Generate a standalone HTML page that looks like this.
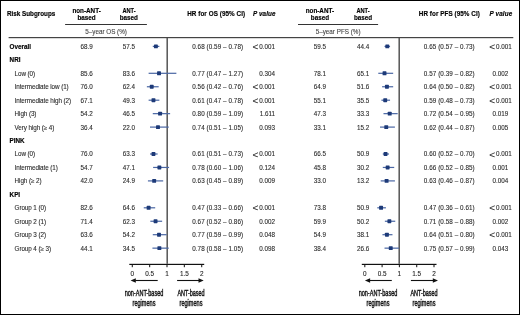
<!DOCTYPE html>
<html><head><meta charset="utf-8"><style>
html,body{margin:0;padding:0;background:#fff}
#c{position:relative;width:520px;height:315px;overflow:hidden;background:#fff;font-family:"Liberation Sans",sans-serif;color:#2a2a2a}
#c .t{position:absolute;white-space:nowrap}
#c .lt{display:inline-block;font-size:9.4px;width:6.9px;line-height:0;vertical-align:-1.2px;transform:translateX(0.6px) scaleX(1.06);transform-origin:0 0}
#tx{position:absolute;left:0;top:0;width:520px;height:315px;will-change:transform;-webkit-text-stroke:0.1px currentColor;filter:blur(0.25px)}
#c svg{position:absolute;left:0;top:0}
#b{position:absolute;left:0;top:0;width:518px;height:313px;border:1px solid #000}
</style></head><body><div id="c">
<svg width="520" height="315" viewBox="0 0 520 315"><rect x="65.10" y="24.00" width="81.80" height="1.00" fill="#333"/><rect x="298.00" y="24.00" width="80.10" height="1.00" fill="#333"/><rect x="8.60" y="37.00" width="504.70" height="1.20" fill="#444"/><rect x="166.45" y="38.00" width="1.50" height="225.80" fill="#555"/><rect x="129.30" y="263.80" width="74.90" height="1.20" fill="#111"/><rect x="131.75" y="264.80" width="1.10" height="2.40" fill="#222"/><rect x="149.10" y="264.80" width="1.10" height="2.40" fill="#222"/><rect x="166.45" y="264.80" width="1.10" height="2.40" fill="#222"/><rect x="183.80" y="264.80" width="1.10" height="2.40" fill="#222"/><rect x="201.15" y="264.80" width="1.10" height="2.40" fill="#222"/><rect x="398.45" y="38.00" width="1.50" height="225.80" fill="#555"/><rect x="361.80" y="263.80" width="74.70" height="1.20" fill="#111"/><rect x="364.25" y="264.80" width="1.10" height="2.40" fill="#222"/><rect x="381.55" y="264.80" width="1.10" height="2.40" fill="#222"/><rect x="398.85" y="264.80" width="1.10" height="2.40" fill="#222"/><rect x="416.15" y="264.80" width="1.10" height="2.40" fill="#222"/><rect x="433.45" y="264.80" width="1.10" height="2.40" fill="#222"/><line x1="135.29999999999998" y1="280.5" x2="157.7" y2="280.5" stroke="#111" stroke-width="1.1"/><polygon points="130.6,280.5 135.79999999999998,278.2 135.79999999999998,282.8" fill="#111"/><line x1="177.1" y1="280.5" x2="199.0" y2="280.5" stroke="#111" stroke-width="1.1"/><polygon points="203.7,280.5 198.5,278.2 198.5,282.8" fill="#111"/><line x1="369.59999999999997" y1="280.5" x2="391.8" y2="280.5" stroke="#111" stroke-width="1.1"/><polygon points="364.9,280.5 370.09999999999997,278.2 370.09999999999997,282.8" fill="#111"/><line x1="410.9" y1="280.5" x2="433.3" y2="280.5" stroke="#111" stroke-width="1.1"/><polygon points="438.0,280.5 432.8,278.2 432.8,282.8" fill="#111"/><rect x="152.77" y="45.80" width="6.59" height="1.20" fill="#4a67a4"/><rect x="153.95" y="44.45" width="3.9" height="3.9" rx="0.6" fill="#1d3a78"/><rect x="384.52" y="45.80" width="5.54" height="1.20" fill="#4a67a4"/><rect x="385.34" y="44.45" width="3.9" height="3.9" rx="0.6" fill="#1d3a78"/><rect x="148.61" y="72.70" width="27.76" height="1.20" fill="#4a67a4"/><rect x="157.07" y="71.35" width="3.9" height="3.9" rx="0.6" fill="#1d3a78"/><rect x="378.29" y="72.70" width="14.88" height="1.20" fill="#4a67a4"/><rect x="382.57" y="71.35" width="3.9" height="3.9" rx="0.6" fill="#1d3a78"/><rect x="146.87" y="86.15" width="11.80" height="1.20" fill="#4a67a4"/><rect x="149.78" y="84.80" width="3.9" height="3.9" rx="0.6" fill="#1d3a78"/><rect x="382.10" y="86.15" width="11.07" height="1.20" fill="#4a67a4"/><rect x="384.99" y="84.80" width="3.9" height="3.9" rx="0.6" fill="#1d3a78"/><rect x="148.61" y="99.60" width="10.76" height="1.20" fill="#4a67a4"/><rect x="151.52" y="98.25" width="3.9" height="3.9" rx="0.6" fill="#1d3a78"/><rect x="381.41" y="99.60" width="8.65" height="1.20" fill="#4a67a4"/><rect x="383.26" y="98.25" width="3.9" height="3.9" rx="0.6" fill="#1d3a78"/><rect x="152.77" y="113.05" width="17.35" height="1.20" fill="#4a67a4"/><rect x="158.11" y="111.70" width="3.9" height="3.9" rx="0.6" fill="#1d3a78"/><rect x="383.48" y="113.05" width="14.19" height="1.20" fill="#4a67a4"/><rect x="387.76" y="111.70" width="3.9" height="3.9" rx="0.6" fill="#1d3a78"/><rect x="150.00" y="126.50" width="18.74" height="1.20" fill="#4a67a4"/><rect x="156.03" y="125.15" width="3.9" height="3.9" rx="0.6" fill="#1d3a78"/><rect x="380.02" y="126.50" width="14.88" height="1.20" fill="#4a67a4"/><rect x="384.30" y="125.15" width="3.9" height="3.9" rx="0.6" fill="#1d3a78"/><rect x="150.00" y="153.40" width="7.63" height="1.20" fill="#4a67a4"/><rect x="151.52" y="152.05" width="3.9" height="3.9" rx="0.6" fill="#1d3a78"/><rect x="382.79" y="153.40" width="6.23" height="1.20" fill="#4a67a4"/><rect x="383.61" y="152.05" width="3.9" height="3.9" rx="0.6" fill="#1d3a78"/><rect x="153.12" y="166.85" width="15.96" height="1.20" fill="#4a67a4"/><rect x="157.42" y="165.50" width="3.9" height="3.9" rx="0.6" fill="#1d3a78"/><rect x="382.79" y="166.85" width="11.42" height="1.20" fill="#4a67a4"/><rect x="385.69" y="165.50" width="3.9" height="3.9" rx="0.6" fill="#1d3a78"/><rect x="147.92" y="180.30" width="15.27" height="1.20" fill="#4a67a4"/><rect x="152.21" y="178.95" width="3.9" height="3.9" rx="0.6" fill="#1d3a78"/><rect x="380.72" y="180.30" width="14.19" height="1.20" fill="#4a67a4"/><rect x="384.65" y="178.95" width="3.9" height="3.9" rx="0.6" fill="#1d3a78"/><rect x="143.75" y="207.20" width="11.45" height="1.20" fill="#4a67a4"/><rect x="146.66" y="205.85" width="3.9" height="3.9" rx="0.6" fill="#1d3a78"/><rect x="377.26" y="207.20" width="8.65" height="1.20" fill="#4a67a4"/><rect x="379.11" y="205.85" width="3.9" height="3.9" rx="0.6" fill="#1d3a78"/><rect x="150.34" y="220.65" width="11.80" height="1.20" fill="#4a67a4"/><rect x="153.60" y="219.30" width="3.9" height="3.9" rx="0.6" fill="#1d3a78"/><rect x="384.87" y="220.65" width="10.38" height="1.20" fill="#4a67a4"/><rect x="387.42" y="219.30" width="3.9" height="3.9" rx="0.6" fill="#1d3a78"/><rect x="152.77" y="234.10" width="13.88" height="1.20" fill="#4a67a4"/><rect x="157.07" y="232.75" width="3.9" height="3.9" rx="0.6" fill="#1d3a78"/><rect x="382.45" y="234.10" width="10.03" height="1.20" fill="#4a67a4"/><rect x="384.99" y="232.75" width="3.9" height="3.9" rx="0.6" fill="#1d3a78"/><rect x="152.43" y="247.55" width="16.31" height="1.20" fill="#4a67a4"/><rect x="157.42" y="246.20" width="3.9" height="3.9" rx="0.6" fill="#1d3a78"/><rect x="384.52" y="247.55" width="14.53" height="1.20" fill="#4a67a4"/><rect x="388.80" y="246.20" width="3.9" height="3.9" rx="0.6" fill="#1d3a78"/></svg>
<div id="tx">
<div class="t" style="top:11.34px;font-size:6.3px;line-height:6.3px;font-weight:bold;-webkit-text-stroke:0.15px currentColor;color:#000;left:7.00px;">Risk Subgroups</div>
<div class="t" style="top:7.75px;font-size:6.3px;line-height:6.3px;font-weight:bold;-webkit-text-stroke:0.15px currentColor;color:#000;left:86.60px;transform:translateX(-50%);transform-origin:center center;">non-ANT-</div>
<div class="t" style="top:15.25px;font-size:6.3px;line-height:6.3px;font-weight:bold;-webkit-text-stroke:0.15px currentColor;color:#000;left:86.60px;transform:translateX(-50%);transform-origin:center center;">based</div>
<div class="t" style="top:7.75px;font-size:6.3px;line-height:6.3px;font-weight:bold;-webkit-text-stroke:0.15px currentColor;color:#000;left:319.90px;transform:translateX(-50%);transform-origin:center center;">non-ANT-</div>
<div class="t" style="top:15.25px;font-size:6.3px;line-height:6.3px;font-weight:bold;-webkit-text-stroke:0.15px currentColor;color:#000;left:319.90px;transform:translateX(-50%);transform-origin:center center;">based</div>
<div class="t" style="top:7.75px;font-size:6.3px;line-height:6.3px;font-weight:bold;-webkit-text-stroke:0.15px currentColor;color:#000;left:128.50px;transform:translateX(-50%) scaleX(0.9);transform-origin:center center;">ANT-</div>
<div class="t" style="top:15.25px;font-size:6.3px;line-height:6.3px;font-weight:bold;-webkit-text-stroke:0.15px currentColor;color:#000;left:128.80px;transform:translateX(-50%);transform-origin:center center;">based</div>
<div class="t" style="top:7.75px;font-size:6.3px;line-height:6.3px;font-weight:bold;-webkit-text-stroke:0.15px currentColor;color:#000;left:362.80px;transform:translateX(-50%) scaleX(0.9);transform-origin:center center;">ANT-</div>
<div class="t" style="top:15.25px;font-size:6.3px;line-height:6.3px;font-weight:bold;-webkit-text-stroke:0.15px currentColor;color:#000;left:363.10px;transform:translateX(-50%);transform-origin:center center;">based</div>
<div class="t" style="top:11.34px;font-size:6.3px;line-height:6.3px;font-weight:bold;-webkit-text-stroke:0.15px currentColor;color:#000;letter-spacing:0.07px;left:187.20px;">HR for OS (95% CI)</div>
<div class="t" style="top:11.34px;font-size:6.3px;line-height:6.3px;font-weight:bold;-webkit-text-stroke:0.15px currentColor;font-style:italic;color:#000;letter-spacing:0.12px;left:253.00px;"><i>P</i> value</div>
<div class="t" style="top:11.34px;font-size:6.3px;line-height:6.3px;font-weight:bold;-webkit-text-stroke:0.15px currentColor;color:#000;letter-spacing:0.07px;left:418.80px;">HR for PFS (95% CI)</div>
<div class="t" style="top:11.34px;font-size:6.3px;line-height:6.3px;font-weight:bold;-webkit-text-stroke:0.15px currentColor;font-style:italic;color:#000;letter-spacing:0.12px;left:489.60px;"><i>P</i> value</div>
<div class="t" style="top:28.64px;font-size:6.3px;line-height:6.3px;color:#444;left:106.10px;transform:translateX(-50%);transform-origin:center center;">5–year OS (%)</div>
<div class="t" style="top:28.64px;font-size:6.3px;line-height:6.3px;color:#444;left:338.10px;transform:translateX(-50%);transform-origin:center center;">5–year PFS (%)</div>
<div class="t" style="top:270.56px;font-size:6.4px;line-height:6.4px;color:#222;left:132.30px;transform:translateX(-50%);transform-origin:center center;">0</div>
<div class="t" style="top:270.56px;font-size:6.4px;line-height:6.4px;color:#222;left:149.65px;transform:translateX(-50%);transform-origin:center center;">0.5</div>
<div class="t" style="top:270.56px;font-size:6.4px;line-height:6.4px;color:#222;left:167.00px;transform:translateX(-50%);transform-origin:center center;">1</div>
<div class="t" style="top:270.56px;font-size:6.4px;line-height:6.4px;color:#222;left:184.35px;transform:translateX(-50%);transform-origin:center center;">1.5</div>
<div class="t" style="top:270.56px;font-size:6.4px;line-height:6.4px;color:#222;left:201.70px;transform:translateX(-50%);transform-origin:center center;">2</div>
<div class="t" style="top:270.56px;font-size:6.4px;line-height:6.4px;color:#222;left:364.80px;transform:translateX(-50%);transform-origin:center center;">0</div>
<div class="t" style="top:270.56px;font-size:6.4px;line-height:6.4px;color:#222;left:382.10px;transform:translateX(-50%);transform-origin:center center;">0.5</div>
<div class="t" style="top:270.56px;font-size:6.4px;line-height:6.4px;color:#222;left:399.40px;transform:translateX(-50%);transform-origin:center center;">1</div>
<div class="t" style="top:270.56px;font-size:6.4px;line-height:6.4px;color:#222;left:416.70px;transform:translateX(-50%);transform-origin:center center;">1.5</div>
<div class="t" style="top:270.56px;font-size:6.4px;line-height:6.4px;color:#222;left:434.00px;transform:translateX(-50%);transform-origin:center center;">2</div>
<div class="t" style="top:289.36px;font-size:8.4px;line-height:8.4px;color:#111;-webkit-text-stroke:0.4px currentColor;left:143.60px;transform:translateX(-50%) scaleX(0.66);transform-origin:center center;">non-ANT-based</div>
<div class="t" style="top:299.36px;font-size:8.4px;line-height:8.4px;color:#111;-webkit-text-stroke:0.4px currentColor;left:143.60px;transform:translateX(-50%) scaleX(0.665);transform-origin:center center;">regimens</div>
<div class="t" style="top:289.36px;font-size:8.4px;line-height:8.4px;color:#111;-webkit-text-stroke:0.4px currentColor;left:190.50px;transform:translateX(-50%) scaleX(0.65);transform-origin:center center;">ANT-based</div>
<div class="t" style="top:299.36px;font-size:8.4px;line-height:8.4px;color:#111;-webkit-text-stroke:0.4px currentColor;left:190.50px;transform:translateX(-50%) scaleX(0.665);transform-origin:center center;">regimens</div>
<div class="t" style="top:289.36px;font-size:8.4px;line-height:8.4px;color:#111;-webkit-text-stroke:0.4px currentColor;left:377.90px;transform:translateX(-50%) scaleX(0.66);transform-origin:center center;">non-ANT-based</div>
<div class="t" style="top:299.36px;font-size:8.4px;line-height:8.4px;color:#111;-webkit-text-stroke:0.4px currentColor;left:377.90px;transform:translateX(-50%) scaleX(0.665);transform-origin:center center;">regimens</div>
<div class="t" style="top:289.36px;font-size:8.4px;line-height:8.4px;color:#111;-webkit-text-stroke:0.4px currentColor;left:424.30px;transform:translateX(-50%) scaleX(0.65);transform-origin:center center;">ANT-based</div>
<div class="t" style="top:299.36px;font-size:8.4px;line-height:8.4px;color:#111;-webkit-text-stroke:0.4px currentColor;left:424.30px;transform:translateX(-50%) scaleX(0.665);transform-origin:center center;">regimens</div>
<div class="t" style="top:43.85px;font-size:6.3px;line-height:6.3px;font-weight:bold;-webkit-text-stroke:0.15px currentColor;color:#000;left:9.60px;">Overall</div>
<div class="t" style="top:43.85px;font-size:6.3px;line-height:6.3px;left:86.60px;transform:translateX(-50%);transform-origin:center center;">68.9</div>
<div class="t" style="top:43.85px;font-size:6.3px;line-height:6.3px;left:128.80px;transform:translateX(-50%);transform-origin:center center;">57.5</div>
<div class="t" style="top:43.85px;font-size:6.3px;line-height:6.3px;letter-spacing:0.07px;left:192.20px;">0.68 (0.59 – 0.78)</div>
<div class="t" style="top:43.85px;font-size:6.3px;line-height:6.3px;right:244.90px;"><span class="lt">&lt;</span>0.001</div>
<div class="t" style="top:43.85px;font-size:6.3px;line-height:6.3px;left:319.90px;transform:translateX(-50%);transform-origin:center center;">59.5</div>
<div class="t" style="top:43.85px;font-size:6.3px;line-height:6.3px;left:363.10px;transform:translateX(-50%);transform-origin:center center;">44.4</div>
<div class="t" style="top:43.85px;font-size:6.3px;line-height:6.3px;letter-spacing:0.07px;left:423.80px;">0.65 (0.57 – 0.73)</div>
<div class="t" style="top:43.85px;font-size:6.3px;line-height:6.3px;left:500.40px;transform:translateX(-50%);transform-origin:center center;"><span class="lt">&lt;</span>0.001</div>
<div class="t" style="top:57.30px;font-size:6.3px;line-height:6.3px;font-weight:bold;-webkit-text-stroke:0.15px currentColor;color:#000;left:9.60px;">NRI</div>
<div class="t" style="top:70.74px;font-size:6.3px;line-height:6.3px;letter-spacing:-0.08px;left:14.60px;">Low (0)</div>
<div class="t" style="top:70.74px;font-size:6.3px;line-height:6.3px;left:86.60px;transform:translateX(-50%);transform-origin:center center;">85.6</div>
<div class="t" style="top:70.74px;font-size:6.3px;line-height:6.3px;left:128.80px;transform:translateX(-50%);transform-origin:center center;">83.6</div>
<div class="t" style="top:70.74px;font-size:6.3px;line-height:6.3px;letter-spacing:0.07px;left:192.20px;">0.77 (0.47 – 1.27)</div>
<div class="t" style="top:70.74px;font-size:6.3px;line-height:6.3px;right:244.90px;">0.304</div>
<div class="t" style="top:70.74px;font-size:6.3px;line-height:6.3px;left:319.90px;transform:translateX(-50%);transform-origin:center center;">78.1</div>
<div class="t" style="top:70.74px;font-size:6.3px;line-height:6.3px;left:363.10px;transform:translateX(-50%);transform-origin:center center;">65.1</div>
<div class="t" style="top:70.74px;font-size:6.3px;line-height:6.3px;letter-spacing:0.07px;left:423.80px;">0.57 (0.39 – 0.82)</div>
<div class="t" style="top:70.74px;font-size:6.3px;line-height:6.3px;left:500.40px;transform:translateX(-50%);transform-origin:center center;">0.002</div>
<div class="t" style="top:84.19px;font-size:6.3px;line-height:6.3px;letter-spacing:-0.08px;left:14.60px;">Intermediate low (1)</div>
<div class="t" style="top:84.19px;font-size:6.3px;line-height:6.3px;left:86.60px;transform:translateX(-50%);transform-origin:center center;">76.0</div>
<div class="t" style="top:84.19px;font-size:6.3px;line-height:6.3px;left:128.80px;transform:translateX(-50%);transform-origin:center center;">62.4</div>
<div class="t" style="top:84.19px;font-size:6.3px;line-height:6.3px;letter-spacing:0.07px;left:192.20px;">0.56 (0.42 – 0.76)</div>
<div class="t" style="top:84.19px;font-size:6.3px;line-height:6.3px;right:244.90px;"><span class="lt">&lt;</span>0.001</div>
<div class="t" style="top:84.19px;font-size:6.3px;line-height:6.3px;left:319.90px;transform:translateX(-50%);transform-origin:center center;">64.9</div>
<div class="t" style="top:84.19px;font-size:6.3px;line-height:6.3px;left:363.10px;transform:translateX(-50%);transform-origin:center center;">51.6</div>
<div class="t" style="top:84.19px;font-size:6.3px;line-height:6.3px;letter-spacing:0.07px;left:423.80px;">0.64 (0.50 – 0.82)</div>
<div class="t" style="top:84.19px;font-size:6.3px;line-height:6.3px;left:500.40px;transform:translateX(-50%);transform-origin:center center;"><span class="lt">&lt;</span>0.001</div>
<div class="t" style="top:97.64px;font-size:6.3px;line-height:6.3px;letter-spacing:-0.08px;left:14.60px;">Intermediate high (2)</div>
<div class="t" style="top:97.64px;font-size:6.3px;line-height:6.3px;left:86.60px;transform:translateX(-50%);transform-origin:center center;">67.1</div>
<div class="t" style="top:97.64px;font-size:6.3px;line-height:6.3px;left:128.80px;transform:translateX(-50%);transform-origin:center center;">49.3</div>
<div class="t" style="top:97.64px;font-size:6.3px;line-height:6.3px;letter-spacing:0.07px;left:192.20px;">0.61 (0.47 – 0.78)</div>
<div class="t" style="top:97.64px;font-size:6.3px;line-height:6.3px;right:244.90px;"><span class="lt">&lt;</span>0.001</div>
<div class="t" style="top:97.64px;font-size:6.3px;line-height:6.3px;left:319.90px;transform:translateX(-50%);transform-origin:center center;">55.1</div>
<div class="t" style="top:97.64px;font-size:6.3px;line-height:6.3px;left:363.10px;transform:translateX(-50%);transform-origin:center center;">35.5</div>
<div class="t" style="top:97.64px;font-size:6.3px;line-height:6.3px;letter-spacing:0.07px;left:423.80px;">0.59 (0.48 – 0.73)</div>
<div class="t" style="top:97.64px;font-size:6.3px;line-height:6.3px;left:500.40px;transform:translateX(-50%);transform-origin:center center;"><span class="lt">&lt;</span>0.001</div>
<div class="t" style="top:111.09px;font-size:6.3px;line-height:6.3px;letter-spacing:-0.08px;left:14.60px;">High (3)</div>
<div class="t" style="top:111.09px;font-size:6.3px;line-height:6.3px;left:86.60px;transform:translateX(-50%);transform-origin:center center;">54.2</div>
<div class="t" style="top:111.09px;font-size:6.3px;line-height:6.3px;left:128.80px;transform:translateX(-50%);transform-origin:center center;">46.5</div>
<div class="t" style="top:111.09px;font-size:6.3px;line-height:6.3px;letter-spacing:0.07px;left:192.20px;">0.80 (0.59 – 1.09)</div>
<div class="t" style="top:111.09px;font-size:6.3px;line-height:6.3px;right:244.90px;">1.611</div>
<div class="t" style="top:111.09px;font-size:6.3px;line-height:6.3px;left:319.90px;transform:translateX(-50%);transform-origin:center center;">47.3</div>
<div class="t" style="top:111.09px;font-size:6.3px;line-height:6.3px;left:363.10px;transform:translateX(-50%);transform-origin:center center;">33.3</div>
<div class="t" style="top:111.09px;font-size:6.3px;line-height:6.3px;letter-spacing:0.07px;left:423.80px;">0.72 (0.54 – 0.95)</div>
<div class="t" style="top:111.09px;font-size:6.3px;line-height:6.3px;left:500.40px;transform:translateX(-50%);transform-origin:center center;">0.019</div>
<div class="t" style="top:124.54px;font-size:6.3px;line-height:6.3px;letter-spacing:-0.08px;left:14.60px;">Very high (≥ 4)</div>
<div class="t" style="top:124.54px;font-size:6.3px;line-height:6.3px;left:86.60px;transform:translateX(-50%);transform-origin:center center;">36.4</div>
<div class="t" style="top:124.54px;font-size:6.3px;line-height:6.3px;left:128.80px;transform:translateX(-50%);transform-origin:center center;">22.0</div>
<div class="t" style="top:124.54px;font-size:6.3px;line-height:6.3px;letter-spacing:0.07px;left:192.20px;">0.74 (0.51 – 1.05)</div>
<div class="t" style="top:124.54px;font-size:6.3px;line-height:6.3px;right:244.90px;">0.093</div>
<div class="t" style="top:124.54px;font-size:6.3px;line-height:6.3px;left:319.90px;transform:translateX(-50%);transform-origin:center center;">33.1</div>
<div class="t" style="top:124.54px;font-size:6.3px;line-height:6.3px;left:363.10px;transform:translateX(-50%);transform-origin:center center;">15.2</div>
<div class="t" style="top:124.54px;font-size:6.3px;line-height:6.3px;letter-spacing:0.07px;left:423.80px;">0.62 (0.44 – 0.87)</div>
<div class="t" style="top:124.54px;font-size:6.3px;line-height:6.3px;left:500.40px;transform:translateX(-50%);transform-origin:center center;">0.005</div>
<div class="t" style="top:138.00px;font-size:6.3px;line-height:6.3px;font-weight:bold;-webkit-text-stroke:0.15px currentColor;color:#000;left:9.60px;">PINK</div>
<div class="t" style="top:151.45px;font-size:6.3px;line-height:6.3px;letter-spacing:-0.08px;left:14.60px;">Low (0)</div>
<div class="t" style="top:151.45px;font-size:6.3px;line-height:6.3px;left:86.60px;transform:translateX(-50%);transform-origin:center center;">76.0</div>
<div class="t" style="top:151.45px;font-size:6.3px;line-height:6.3px;left:128.80px;transform:translateX(-50%);transform-origin:center center;">63.3</div>
<div class="t" style="top:151.45px;font-size:6.3px;line-height:6.3px;letter-spacing:0.07px;left:192.20px;">0.61 (0.51 – 0.73)</div>
<div class="t" style="top:151.45px;font-size:6.3px;line-height:6.3px;right:244.90px;"><span class="lt">&lt;</span>0.001</div>
<div class="t" style="top:151.45px;font-size:6.3px;line-height:6.3px;left:319.90px;transform:translateX(-50%);transform-origin:center center;">66.5</div>
<div class="t" style="top:151.45px;font-size:6.3px;line-height:6.3px;left:363.10px;transform:translateX(-50%);transform-origin:center center;">50.9</div>
<div class="t" style="top:151.45px;font-size:6.3px;line-height:6.3px;letter-spacing:0.07px;left:423.80px;">0.60 (0.52 – 0.70)</div>
<div class="t" style="top:151.45px;font-size:6.3px;line-height:6.3px;left:500.40px;transform:translateX(-50%);transform-origin:center center;"><span class="lt">&lt;</span>0.001</div>
<div class="t" style="top:164.90px;font-size:6.3px;line-height:6.3px;letter-spacing:-0.08px;left:14.60px;">Intermediate (1)</div>
<div class="t" style="top:164.90px;font-size:6.3px;line-height:6.3px;left:86.60px;transform:translateX(-50%);transform-origin:center center;">54.7</div>
<div class="t" style="top:164.90px;font-size:6.3px;line-height:6.3px;left:128.80px;transform:translateX(-50%);transform-origin:center center;">47.1</div>
<div class="t" style="top:164.90px;font-size:6.3px;line-height:6.3px;letter-spacing:0.07px;left:192.20px;">0.78 (0.60 – 1.06)</div>
<div class="t" style="top:164.90px;font-size:6.3px;line-height:6.3px;right:244.90px;">0.124</div>
<div class="t" style="top:164.90px;font-size:6.3px;line-height:6.3px;left:319.90px;transform:translateX(-50%);transform-origin:center center;">45.8</div>
<div class="t" style="top:164.90px;font-size:6.3px;line-height:6.3px;left:363.10px;transform:translateX(-50%);transform-origin:center center;">30.2</div>
<div class="t" style="top:164.90px;font-size:6.3px;line-height:6.3px;letter-spacing:0.07px;left:423.80px;">0.66 (0.52 – 0.85)</div>
<div class="t" style="top:164.90px;font-size:6.3px;line-height:6.3px;left:500.40px;transform:translateX(-50%);transform-origin:center center;">0.001</div>
<div class="t" style="top:178.34px;font-size:6.3px;line-height:6.3px;letter-spacing:-0.08px;left:14.60px;">High (≥ 2)</div>
<div class="t" style="top:178.34px;font-size:6.3px;line-height:6.3px;left:86.60px;transform:translateX(-50%);transform-origin:center center;">42.0</div>
<div class="t" style="top:178.34px;font-size:6.3px;line-height:6.3px;left:128.80px;transform:translateX(-50%);transform-origin:center center;">24.9</div>
<div class="t" style="top:178.34px;font-size:6.3px;line-height:6.3px;letter-spacing:0.07px;left:192.20px;">0.63 (0.45 – 0.89)</div>
<div class="t" style="top:178.34px;font-size:6.3px;line-height:6.3px;right:244.90px;">0.009</div>
<div class="t" style="top:178.34px;font-size:6.3px;line-height:6.3px;left:319.90px;transform:translateX(-50%);transform-origin:center center;">33.0</div>
<div class="t" style="top:178.34px;font-size:6.3px;line-height:6.3px;left:363.10px;transform:translateX(-50%);transform-origin:center center;">13.2</div>
<div class="t" style="top:178.34px;font-size:6.3px;line-height:6.3px;letter-spacing:0.07px;left:423.80px;">0.63 (0.46 – 0.87)</div>
<div class="t" style="top:178.34px;font-size:6.3px;line-height:6.3px;left:500.40px;transform:translateX(-50%);transform-origin:center center;">0.004</div>
<div class="t" style="top:191.79px;font-size:6.3px;line-height:6.3px;font-weight:bold;-webkit-text-stroke:0.15px currentColor;color:#000;left:9.60px;">KPI</div>
<div class="t" style="top:205.24px;font-size:6.3px;line-height:6.3px;letter-spacing:-0.08px;left:14.60px;">Group 1 (0)</div>
<div class="t" style="top:205.24px;font-size:6.3px;line-height:6.3px;left:86.60px;transform:translateX(-50%);transform-origin:center center;">82.6</div>
<div class="t" style="top:205.24px;font-size:6.3px;line-height:6.3px;left:128.80px;transform:translateX(-50%);transform-origin:center center;">64.6</div>
<div class="t" style="top:205.24px;font-size:6.3px;line-height:6.3px;letter-spacing:0.07px;left:192.20px;">0.47 (0.33 – 0.66)</div>
<div class="t" style="top:205.24px;font-size:6.3px;line-height:6.3px;right:244.90px;"><span class="lt">&lt;</span>0.001</div>
<div class="t" style="top:205.24px;font-size:6.3px;line-height:6.3px;left:319.90px;transform:translateX(-50%);transform-origin:center center;">73.8</div>
<div class="t" style="top:205.24px;font-size:6.3px;line-height:6.3px;left:363.10px;transform:translateX(-50%);transform-origin:center center;">50.9</div>
<div class="t" style="top:205.24px;font-size:6.3px;line-height:6.3px;letter-spacing:0.07px;left:423.80px;">0.47 (0.36 – 0.61)</div>
<div class="t" style="top:205.24px;font-size:6.3px;line-height:6.3px;left:500.40px;transform:translateX(-50%);transform-origin:center center;"><span class="lt">&lt;</span>0.001</div>
<div class="t" style="top:218.70px;font-size:6.3px;line-height:6.3px;letter-spacing:-0.08px;left:14.60px;">Group 2 (1)</div>
<div class="t" style="top:218.70px;font-size:6.3px;line-height:6.3px;left:86.60px;transform:translateX(-50%);transform-origin:center center;">71.4</div>
<div class="t" style="top:218.70px;font-size:6.3px;line-height:6.3px;left:128.80px;transform:translateX(-50%);transform-origin:center center;">62.3</div>
<div class="t" style="top:218.70px;font-size:6.3px;line-height:6.3px;letter-spacing:0.07px;left:192.20px;">0.67 (0.52 – 0.86)</div>
<div class="t" style="top:218.70px;font-size:6.3px;line-height:6.3px;right:244.90px;">0.002</div>
<div class="t" style="top:218.70px;font-size:6.3px;line-height:6.3px;left:319.90px;transform:translateX(-50%);transform-origin:center center;">59.9</div>
<div class="t" style="top:218.70px;font-size:6.3px;line-height:6.3px;left:363.10px;transform:translateX(-50%);transform-origin:center center;">50.2</div>
<div class="t" style="top:218.70px;font-size:6.3px;line-height:6.3px;letter-spacing:0.07px;left:423.80px;">0.71 (0.58 – 0.88)</div>
<div class="t" style="top:218.70px;font-size:6.3px;line-height:6.3px;left:500.40px;transform:translateX(-50%);transform-origin:center center;">0.002</div>
<div class="t" style="top:232.15px;font-size:6.3px;line-height:6.3px;letter-spacing:-0.08px;left:14.60px;">Group 3 (2)</div>
<div class="t" style="top:232.15px;font-size:6.3px;line-height:6.3px;left:86.60px;transform:translateX(-50%);transform-origin:center center;">63.6</div>
<div class="t" style="top:232.15px;font-size:6.3px;line-height:6.3px;left:128.80px;transform:translateX(-50%);transform-origin:center center;">54.2</div>
<div class="t" style="top:232.15px;font-size:6.3px;line-height:6.3px;letter-spacing:0.07px;left:192.20px;">0.77 (0.59 – 0.99)</div>
<div class="t" style="top:232.15px;font-size:6.3px;line-height:6.3px;right:244.90px;">0.048</div>
<div class="t" style="top:232.15px;font-size:6.3px;line-height:6.3px;left:319.90px;transform:translateX(-50%);transform-origin:center center;">54.9</div>
<div class="t" style="top:232.15px;font-size:6.3px;line-height:6.3px;left:363.10px;transform:translateX(-50%);transform-origin:center center;">38.1</div>
<div class="t" style="top:232.15px;font-size:6.3px;line-height:6.3px;letter-spacing:0.07px;left:423.80px;">0.64 (0.51 – 0.80)</div>
<div class="t" style="top:232.15px;font-size:6.3px;line-height:6.3px;left:500.40px;transform:translateX(-50%);transform-origin:center center;"><span class="lt">&lt;</span>0.001</div>
<div class="t" style="top:245.59px;font-size:6.3px;line-height:6.3px;letter-spacing:-0.08px;left:14.60px;">Group 4 (≥ 3)</div>
<div class="t" style="top:245.59px;font-size:6.3px;line-height:6.3px;left:86.60px;transform:translateX(-50%);transform-origin:center center;">44.1</div>
<div class="t" style="top:245.59px;font-size:6.3px;line-height:6.3px;left:128.80px;transform:translateX(-50%);transform-origin:center center;">34.5</div>
<div class="t" style="top:245.59px;font-size:6.3px;line-height:6.3px;letter-spacing:0.07px;left:192.20px;">0.78 (0.58 – 1.05)</div>
<div class="t" style="top:245.59px;font-size:6.3px;line-height:6.3px;right:244.90px;">0.098</div>
<div class="t" style="top:245.59px;font-size:6.3px;line-height:6.3px;left:319.90px;transform:translateX(-50%);transform-origin:center center;">38.4</div>
<div class="t" style="top:245.59px;font-size:6.3px;line-height:6.3px;left:363.10px;transform:translateX(-50%);transform-origin:center center;">26.6</div>
<div class="t" style="top:245.59px;font-size:6.3px;line-height:6.3px;letter-spacing:0.07px;left:423.80px;">0.75 (0.57 – 0.99)</div>
<div class="t" style="top:245.59px;font-size:6.3px;line-height:6.3px;left:500.40px;transform:translateX(-50%);transform-origin:center center;">0.043</div>
</div>
<div id="b"></div>
</div></body></html>
